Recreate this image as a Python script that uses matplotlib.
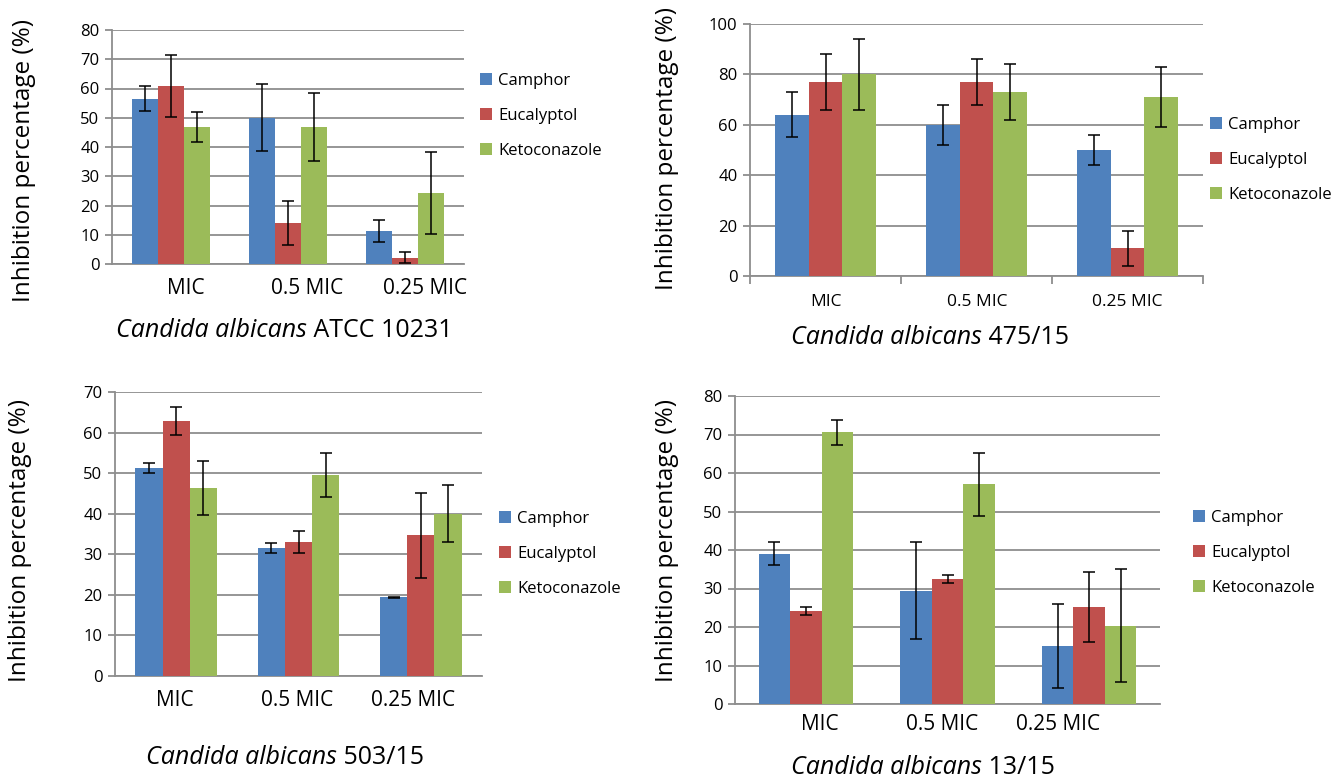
import numpy as np
import matplotlib
matplotlib.use("Agg")
import matplotlib.pyplot as plt

plt.rcParams['font.family'] = ['Open Sans', 'DejaVu Sans']

categories = ['MIC', '0.5 MIC', '0.25 MIC']
series = ['Camphor', 'Eucalyptol', 'Ketoconazole']
colors = ['#4F81BD', '#C0504D', '#9BBB59']

# Candida albicans ATCC 10231
atcc_camphor = [56.5, 50.0, 11.3]
atcc_camphor_err = [4.3, 11.4, 3.9]
atcc_eucalyptol = [60.7, 14.0, 2.2]
atcc_eucalyptol_err = [10.6, 7.4, 1.9]
atcc_keto = [46.8, 46.8, 24.4]
atcc_keto_err = [5.1, 11.5, 14.0]

# Candida albicans 475/15
c475_camphor = [64, 60, 50]
c475_camphor_err = [9, 8, 6]
c475_eucalyptol = [77, 77, 11]
c475_eucalyptol_err = [11, 9, 7]
c475_keto = [80, 73, 71]
c475_keto_err = [14, 11, 12]

# Candida albicans 503/15
c503_camphor = [51.3, 31.6, 19.4]
c503_camphor_err = [1.3, 1.25, 0.1]
c503_eucalyptol = [62.9, 33.0, 34.7]
c503_eucalyptol_err = [3.4, 2.7, 10.5]
c503_keto = [46.4, 49.5, 40.0]
c503_keto_err = [6.7, 5.5, 7.0]

# Candida albicans 13/15
c13_camphor = [39.0, 29.4, 15.0]
c13_camphor_err = [3.0, 12.6, 10.9]
c13_eucalyptol = [24.2, 32.4, 25.2]
c13_eucalyptol_err = [1.1, 1.0, 9.2]
c13_keto = [70.6, 57.1, 20.3]
c13_keto_err = [3.2, 8.2, 14.7]

W, H = 1344, 780
fig = plt.figure(figsize=(W / 100, H / 100), dpi=100)
GRID = '#8E8E8E'
titles = []


def px_axes(x0, y0, x1, y1):
    return fig.add_axes([x0 / W, 1 - y1 / H, (x1 - x0) / W, (y1 - y0) / H])


def panel(box, vals, errs, ymax, ystep, strain, cat_size, cat_pos,
          leg_xy, title_xy, ylab_xy, xtick_marks):
    ax = px_axes(*box)
    x = np.arange(len(categories))
    bw = 2 / 9
    for i in range(3):
        ax.bar(x + (i - 1) * bw, vals[i], bw, color=colors[i], label=series[i],
               zorder=3, linewidth=0)
        ax.errorbar(x + (i - 1) * bw, vals[i], yerr=errs[i], fmt='none',
                    ecolor='black', elinewidth=1.1, capsize=4, capthick=1.1,
                    zorder=4)
    ax.set_xlim(-0.5, 2.5)
    ax.set_ylim(0, ymax)
    ax.set_yticks(np.arange(0, ymax + 1, ystep))
    ax.yaxis.grid(True, color=GRID, linewidth=1.3, zorder=0)
    ax.set_axisbelow(True)
    for s in ['top', 'right']:
        ax.spines[s].set_visible(False)
    for s in ['left', 'bottom']:
        ax.spines[s].set_color(GRID)
        ax.spines[s].set_linewidth(1.3)
    ax.tick_params(axis='y', length=5, color=GRID, width=1.3,
                   labelsize=12, pad=4)
    if xtick_marks:
        ax.set_xticks([-0.5, 0.5, 1.5, 2.5])
        ax.tick_params(axis='x', length=6, color=GRID, width=1.3,
                       labelbottom=False)
    else:
        ax.set_xticks([])
    # category labels
    for k, c in enumerate(categories):
        fig.text(cat_pos[1][k] / W, 1 - cat_pos[0] / H, c, ha='center',
                 va='center', fontsize=cat_size)
    # strain title: italic species name + plain strain code, centred later
    t1 = fig.text(0, 1 - title_xy[1] / H, 'Candida albicans', ha='left',
                  va='center', fontsize=18, style='italic')
    t2 = fig.text(0, 1 - title_xy[1] / H, ' ' + strain, ha='left',
                  va='center', fontsize=18)
    titles.append((t1, t2, title_xy[0]))
    fig.text(ylab_xy[0] / W, 1 - ylab_xy[1] / H, 'Inhibition percentage (%)',
             rotation=90, ha='center', va='center', fontsize=17.5)
    ax.legend(loc='center left', bbox_to_anchor=(leg_xy[0] / W, 1 - leg_xy[1] / H),
              bbox_transform=fig.transFigure, frameon=False, fontsize=12,
              handlelength=0.7, handleheight=0.7, handletextpad=0.4,
              labelspacing=1.14, borderpad=0, borderaxespad=0)
    return ax


panel((112, 30, 464, 264),
      [atcc_camphor, atcc_eucalyptol, atcc_keto],
      [atcc_camphor_err, atcc_eucalyptol_err, atcc_keto_err],
      80, 10, 'ATCC 10231', 15, (288, [186, 307, 425]),
      (480, 116), (284, 330), (24, 160), False)

panel((750, 24, 1203, 276),
      [c475_camphor, c475_eucalyptol, c475_keto],
      [c475_camphor_err, c475_eucalyptol_err, c475_keto_err],
      100, 20, '475/15', 12.5, (302, [826, 977, 1127]),
      (1210, 160), (930, 337), (667, 148), True)

panel((115, 392, 482, 676),
      [c503_camphor, c503_eucalyptol, c503_keto],
      [c503_camphor_err, c503_eucalyptol_err, c503_keto_err],
      70, 10, '503/15', 15, (701, [175, 297, 413]),
      (499, 554), (285, 758), (20, 541), False)

panel((735, 396, 1160, 704),
      [c13_camphor, c13_eucalyptol, c13_keto],
      [c13_camphor_err, c13_eucalyptol_err, c13_keto_err],
      80, 10, '13/15', 15, (724, [820, 942, 1058]),
      (1193, 553), (923, 768), (667, 541), False)

# centre each two-part title on its target x
renderer = fig.canvas.get_renderer()
for t1, t2, cx in titles:
    w1 = t1.get_window_extent(renderer).width
    w2 = t2.get_window_extent(renderer).width
    x0 = cx - (w1 + w2) / 2
    t1.set_x(x0 / W)
    t2.set_x((x0 + w1) / W)

fig.savefig('out.png', dpi=100)
